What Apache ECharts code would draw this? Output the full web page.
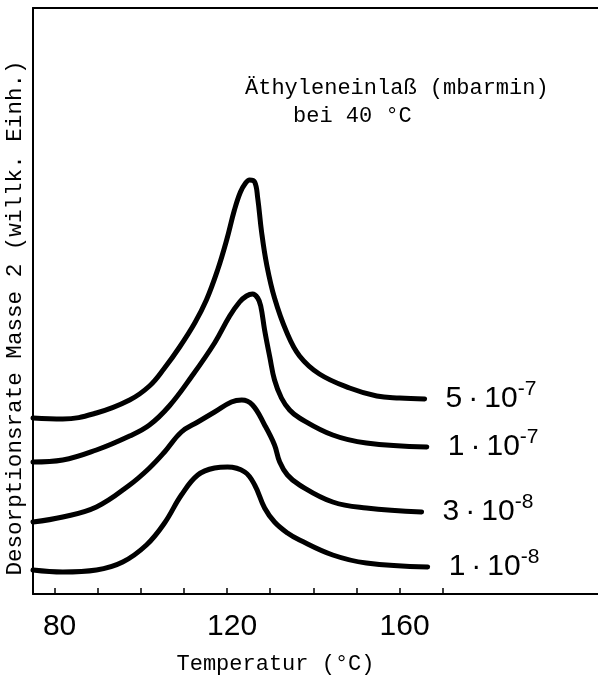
<!DOCTYPE html>
<html><head><meta charset="utf-8">
<script src="https://cdn.jsdelivr.net/npm/echarts@6/dist/echarts.min.js"></script>
<style>html,body{margin:0;padding:0;background:#fff}#c{width:598px;height:678px}</style>
</head><body><div id="c"></div>
<script>
// Tick values of the temperature axis (°C)
const xTickValues = [80, 90, 100, 110, 120, 130, 140, 150, 160, 170];
const xLabelValues = [80, 120, 160];

// Series labels (Äthyleneinlaß in mbar·min at 40 °C)
const seriesNames = ['5·10-7', '1·10-7', '3·10-8', '1·10-8'];
const labelBase = ['5\u2009·\u200910', '1\u2009·\u200910', '3\u2009·\u200910', '1\u2009·\u200910'];
const labelExp = ['-7', '-7', '-8', '-8'];

// 5·10^-7
const tempA = [75.0, 81.9, 89.7, 97.4, 102.0, 105.5, 109.0, 112.5, 115.2, 117.8, 119.9, 121.7, 123.1, 124.3, 125.2, 126.4, 127.1, 128.0, 129.2, 131.0, 133.8, 136.8, 141.4, 148.4, 154.7, 160.0, 165.8];
const rateA = [17.6, 17.5, 18.1, 19.4, 20.8, 22.6, 24.7, 27.1, 29.4, 32.4, 35.4, 38.4, 40.2, 41.1, 41.4, 41.2, 39.6, 36.2, 32.9, 29.6, 26.2, 23.8, 22.0, 20.6, 19.8, 19.6, 19.5];
// 1·10^-7
const tempB = [75.0, 81.9, 89.7, 97.4, 102.0, 106.6, 111.7, 117.1, 120.6, 122.9, 124.5, 125.9, 127.1, 127.8, 128.7, 129.9, 131.0, 132.6, 134.5, 136.8, 144.5, 152.3, 166.3];
const rateB = [13.2, 13.4, 14.4, 15.8, 16.9, 18.8, 21.7, 25.1, 27.8, 29.2, 29.8, 30.0, 29.6, 28.8, 26.4, 23.7, 21.4, 19.6, 18.4, 17.6, 15.9, 15.1, 14.7];
// 3·10^-8
const tempC = [75.0, 81.9, 89.7, 97.4, 102.0, 105.5, 109.4, 113.2, 117.1, 121.0, 123.4, 125.9, 128.7, 131.0, 132.2, 134.0, 136.8, 144.5, 152.3, 165.1];
const rateC = [7.2, 7.7, 8.7, 10.9, 12.6, 14.2, 16.2, 17.2, 18.2, 19.2, 19.4, 18.9, 16.9, 14.9, 13.2, 11.9, 10.9, 9.2, 8.6, 8.2];
// 1·10^-8
const tempD = [75.0, 81.9, 89.7, 95.8, 101.3, 105.5, 109.4, 113.2, 117.1, 120.1, 124.1, 126.4, 128.7, 131.0, 134.0, 136.8, 144.5, 152.3, 166.5];
const rateD = [2.4, 2.2, 2.4, 3.2, 4.9, 7.1, 9.9, 11.9, 12.6, 12.7, 12.2, 10.9, 8.6, 7.2, 6.1, 5.4, 3.9, 3.1, 2.7];

const temps = [tempA, tempB, tempC, tempD];
const rates = [rateA, rateB, rateC, rateD];

const chart = echarts.init(document.getElementById('c'), null, {renderer: 'canvas'});
const mono = "'Liberation Mono', 'DejaVu Sans Mono', monospace";
const sans = "'Liberation Sans', Arial, sans-serif";

const series = temps.map((t, i) => ({
  name: seriesNames[i],
  type: 'line',
  data: t.map((x, j) => [x, rates[i][j]]),
  smooth: 0.4,
  showSymbol: false,
  symbol: 'none',
  lineStyle: {color: '#000', width: 5, cap: 'round', join: 'round'},
  endLabel: {
    show: true,
    distance: 21,
    formatter: '{m|' + labelBase[i] + '}{s|' + labelExp[i] + '}',
    rich: {
      m: {fontFamily: sans, fontSize: 30, color: '#000', lineHeight: 40},
      s: {fontFamily: sans, fontSize: 21, color: '#000', lineHeight: 20, verticalAlign: 'top'}
    }
  },
  z: 3
}));

chart.setOption({
  animation: false,
  backgroundColor: '#fff',
  title: [
    {text: 'Äthyleneinlaß (mbarmin)', left: 245, top: 77, padding: 0,
     textStyle: {fontFamily: mono, fontSize: 22, fontWeight: 'normal', color: '#000'}},
    {text: 'bei 40 °C', left: 293, top: 105, padding: 0,
     textStyle: {fontFamily: mono, fontSize: 22, fontWeight: 'normal', color: '#000'}}
  ],
  grid: {left: 33, right: 0, top: 8, bottom: 84, containLabel: false, outerBoundsMode: 'none'},
  xAxis: [{
    type: 'value', min: 75, max: 206,
    position: 'bottom',
    name: 'Temperatur (°C)',
    nameLocation: 'middle',
    nameGap: 59,
    nameTextStyle: {fontFamily: mono, fontSize: 22, color: '#000', padding: [0, 80, 0, 0]},
    axisLine: {show: true, onZero: false, lineStyle: {color: '#000', width: 2}},
    axisTick: {show: true, inside: true, length: 6, customValues: xTickValues, lineStyle: {color: '#000', width: 1.5}},
    axisLabel: {show: true, customValues: xLabelValues, margin: 18, padding: [0, 0, 0, 10], fontFamily: sans, fontSize: 30, color: '#000'},
    splitLine: {show: false}
  }, {
    type: 'value', min: 0, max: 1, position: 'top',
    axisLine: {show: true, onZero: false, lineStyle: {color: '#000', width: 2}},
    axisTick: {show: false}, axisLabel: {show: false}, splitLine: {show: false}
  }],
  yAxis: {
    type: 'value', min: 0, max: 58.6,
    name: 'Desorptionsrate Masse 2 (willk. Einh.)',
    nameLocation: 'middle',
    nameGap: 6,
    nameTextStyle: {fontFamily: mono, fontSize: 22.6, color: '#000', padding: [0, 34, 0, 0]},
    axisLine: {show: true, onZero: false, lineStyle: {color: '#000', width: 2}},
    axisTick: {show: false}, axisLabel: {show: false}, splitLine: {show: false}
  },
  series: series
});
</script></body></html>
